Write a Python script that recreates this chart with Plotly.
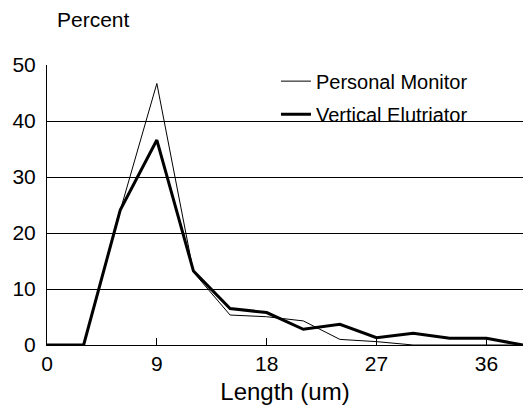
import plotly.graph_objects as go

length_um = [0, 3, 6, 9, 12, 15, 18, 21, 24, 27, 30, 33, 36, 39]
personal_monitor = [0, 0, 24.0, 46.7, 13.0, 5.35, 5.05, 4.3, 1.0, 0.6, 0, 0, 0, 0]
vertical_elutriator = [0, 0, 24.1, 36.6, 13.2, 6.5, 5.8, 2.8, 3.7, 1.3, 2.1, 1.2, 1.2, 0]
x_ticks = [0, 9, 18, 27, 36]
y_ticks = [0, 10, 20, 30, 40, 50]

FONT = "Liberation Sans, Arial, sans-serif"

fig = go.Figure()
fig.add_trace(go.Scatter(
    x=length_um, y=personal_monitor, mode="lines", name="Personal Monitor",
    legendgroup="pm", line=dict(color="black", width=1),
))
fig.add_trace(go.Scatter(
    x=length_um, y=vertical_elutriator, mode="lines", name="Vertical Elutriator",
    legendgroup="ve", line=dict(color="black", width=3),
))

fig.update_layout(
    width=524, height=410,
    margin=dict(l=47, r=1, t=65, b=65),
    paper_bgcolor="white", plot_bgcolor="white",
    font=dict(family=FONT, size=21, color="black"),
    title=dict(text="Percent", x=57/524, xanchor="left", xref="container",
               y=1 - 20/410, yanchor="middle", yref="container",
               font=dict(family=FONT, size=21, color="black")),
    legend=dict(x=0.481, xanchor="left", y=1.012, yanchor="top",
                bgcolor="rgba(0,0,0,0)", font=dict(family=FONT, size=20, color="black"),
                itemwidth=30, traceorder="grouped", tracegroupgap=4),
    showlegend=True,
)
fig.update_xaxes(
    range=[0, 39], tickvals=x_ticks, ticktext=[str(v) for v in x_ticks],
    tickfont=dict(family=FONT, size=21, color="black"),
    showgrid=False, zeroline=False, showline=True, linecolor="black", linewidth=1,
    ticks="inside", ticklen=7, tickcolor="black", tickwidth=1,
    title=dict(text="Length (um)", standoff=8,
               font=dict(family=FONT, size=24, color="black")),
)
fig.update_yaxes(
    range=[0, 50], tickvals=y_ticks, ticktext=[str(v) for v in y_ticks],
    tickfont=dict(family=FONT, size=21, color="black"),
    showgrid=True, gridcolor="black", gridwidth=1, zeroline=False,
    showline=True, linecolor="black", linewidth=1, ticks="",
    ticklabelstandoff=6,
)

fig.write_html("out.html", config={"displayModeBar": False},
               post_script="document.body.style.margin='0';document.body.style.padding='0';")
